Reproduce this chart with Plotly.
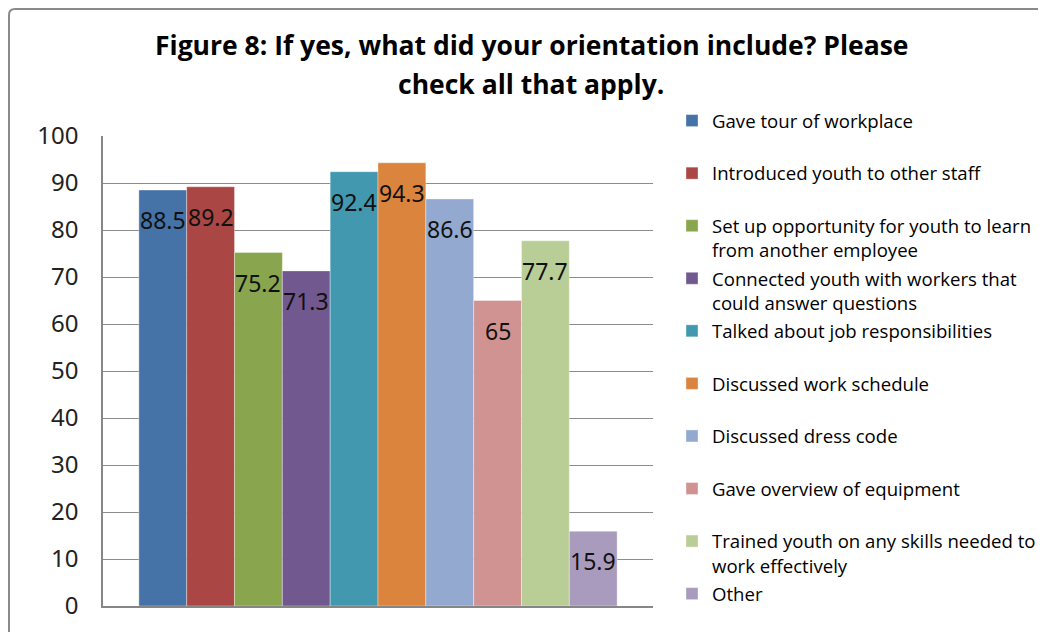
import plotly.graph_objects as go

# ---- data ----
series_names = [
    "Gave tour of workplace",
    "Introduced youth to other staff",
    "Set up opportunity for youth to learn<br>from another employee",
    "Connected youth with workers that<br>could answer questions",
    "Talked about job responsibilities",
    "Discussed work schedule",
    "Discussed dress code",
    "Gave overview of equipment",
    "Trained youth on any skills needed to<br>work effectively",
    "Other",
]
series_values = [88.5, 89.2, 75.2, 71.3, 92.4, 94.3, 86.6, 65, 77.7, 15.9]
series_colors = ["#4572A7", "#AA4643", "#89A54E", "#71588F", "#4198AF",
                 "#DB843D", "#93A9CF", "#D19392", "#B9CD96", "#A99BBD"]
y_ticks = [0, 10, 20, 30, 40, 50, 60, 70, 80, 90, 100]
title_lines = ["Figure 8: If yes, what did your orientation include? Please",
               "check all that apply."]

# page has an 8px body margin; work in page coordinates and convert
OFF = 8
W, H = 1046 - OFF, 632 - OFF
PL, PR, PT, PB = 103, 653, 136, 606          # plot area in page pixels
ML, MT = PL - OFF, PT - OFF
MR, MB = W - (PR - OFF), H - (PB - OFF)
PW, PH = PR - PL, PB - PT


def px_x(p):
    return (p - PL) / PW


def px_y(p):
    return (PB - p) / PH


fig = go.Figure()
n = len(series_names)
for i, (name, v, c) in enumerate(zip(series_names, series_values, series_colors)):
    label = name
    if "<br>" not in name and i != n - 1:
        label = name + "<br> "
    fig.add_trace(go.Bar(
        x=[i], y=[v], width=[1.0], name=label, legendgroup=f"g{i}",
        marker=dict(color=c, line=dict(width=0.6, color="rgba(255,255,255,0.6)")),
        hoverinfo="skip",
    ))
    fig.add_annotation(
        x=i, y=v, text=f"{v:g}", showarrow=False, yshift=-30,
        xanchor="center", yanchor="middle",
        font=dict(family="Noto Sans", size=23, color="#111111"),
    )

# title (two centred lines)
for line, ypix in zip(title_lines, [45, 84]):
    fig.add_annotation(x=px_x(531), y=px_y(ypix), xref="paper", yref="paper",
                       text="<b>" + line + "</b>", showarrow=False,
                       xanchor="center", yanchor="middle",
                       font=dict(family="Open Sans", size=26.5, color="#000000"))

# outer frame (top-left corner of a chart border)
r = 6
x0, y0 = px_x(9), px_y(9)
xr, yr = px_x(9 + r), px_y(9 + r)
fig.add_shape(type="path", xref="paper", yref="paper",
              path=f"M {x0},{px_y(700)} L {x0},{yr} Q {x0},{y0} {xr},{y0} L {px_x(1100)},{y0}",
              line=dict(color="#8a8a8a", width=2))

fig.update_layout(
    width=W, height=H,
    margin=dict(l=ML, r=MR, t=MT, b=MB, autoexpand=False),
    paper_bgcolor="white", plot_bgcolor="white",
    barmode="overlay", showlegend=True,
    legend=dict(x=px_x(672), y=px_y(102), xanchor="left", yanchor="top",
                valign="top", tracegroupgap=1.2, maxheight=610,
                font=dict(family="Open Sans", size=18.6, color="#000000"),
                bgcolor="rgba(0,0,0,0)"),
    xaxis=dict(range=[-1.25, n - 1 + 1.25], showticklabels=False, showgrid=False,
               zeroline=False, showline=True, linecolor="#868686", linewidth=1.5,
               ticks="", fixedrange=True),
    yaxis=dict(range=[0, 100], tickvals=y_ticks, showgrid=True,
               gridcolor="#8c8c8c", gridwidth=1, zeroline=False,
               showline=True, linecolor="#868686", linewidth=1.5,
               ticks="", ticklabelstandoff=18,
               tickfont=dict(family="Noto Sans", size=24, color="#222222")),
)

fig.write_html("out.html")
